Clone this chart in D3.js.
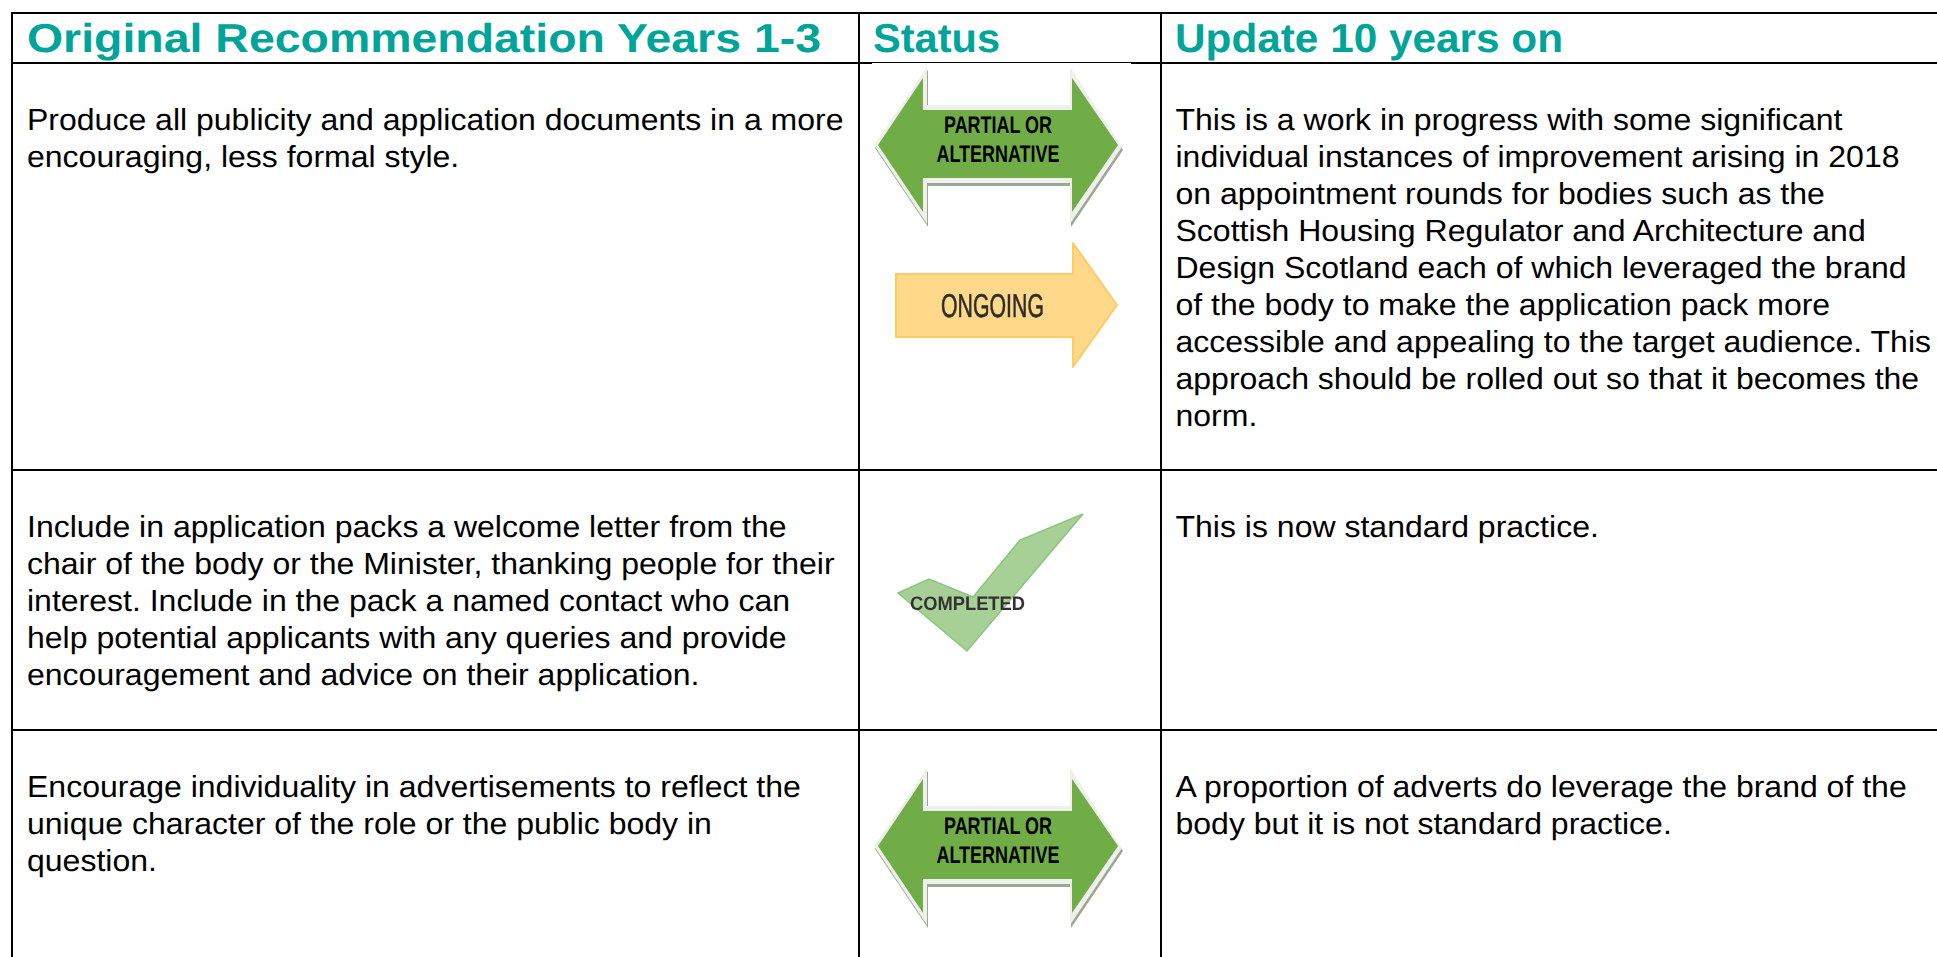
<!DOCTYPE html>
<html>
<head>
<meta charset="utf-8">
<script src="https://cdnjs.cloudflare.com/ajax/libs/d3/7.8.5/d3.min.js"></script>
<style>
    html, body { margin: 0; padding: 0; background: #fff; overflow: hidden; }
    svg { display: block; font-family: "Liberation Sans", Arial, sans-serif; text-rendering: geometricPrecision; }
</style>
</head>
<body>
<svg id="svgTag" width="1937" height="957"></svg>
<script>
    var headers = ["Original Recommendation Years 1-3", "Status", "Update 10 years on"];

    var recommendations = [
        ["Produce all publicity and application documents in a more", "encouraging, less formal style."],
        ["Include in application packs a welcome letter from the", "chair of the body or the Minister, thanking people for their",
            "interest. Include in the pack a named contact who can", "help potential applicants with any queries and provide",
            "encouragement and advice on their application."],
        ["Encourage individuality in advertisements to reflect the", "unique character of the role or the public body in", "question."]
    ];

    var updates = [
        ["This is a work in progress with some significant", "individual instances of improvement arising in 2018",
            "on appointment rounds for bodies such as the", "Scottish Housing Regulator and Architecture and",
            "Design Scotland each of which leveraged the brand", "of the body to make the application pack more",
            "accessible and appealing to the target audience. This", "approach should be rolled out so that it becomes the", "norm."],
        ["This is now standard practice."],
        ["A proportion of adverts do leverage the brand of the", "body but it is not standard practice."]
    ];

    var statuses = [["partial", "ongoing"], ["completed"], ["partial"]];

    var columnEdges = [12, 859, 1161, 1937];
    var rowEdges = [13, 63, 470, 730, 957];
    var headerWidths = [794, 127, 388];
    var headerInset = [15, 14, 14];

    var teal = "#00A499";
    var lineHeight = 37;
    var bodyStretch = 1.053;
    var svg = d3.select("#svgTag");

    var defs = svg.append("defs");
    defs.append("filter").attr("id", "soft").append("feGaussianBlur").attr("stdDeviation", 0.6);

    var outline = d3.line().curve(d3.curveLinearClosed);

    // outlines in local pixels, from the top left of each icon
    var partialOuter = [[0, 78], [53, 0], [53, 38], [196, 38], [196, 0], [248, 80], [196, 157], [196, 116], [53, 116], [53, 157]];
    var partialInner = [[4, 78], [49, 11], [49, 43], [198, 43], [198, 11], [244, 78], [198, 145], [198, 111], [49, 111], [49, 145]];
    var ongoingShape = [[0, 31], [177, 31], [177, 0], [221, 62], [177, 124], [177, 94], [0, 94]];
    var completedShape = [[0, 79], [31, 65], [75, 83], [122, 26], [185, 0], [69, 137]];

    function drawPartial(g) {
        g.append("path").attr("d", outline(partialOuter)).attr("transform", "translate(1,3)")
            .attr("fill", "#9DA894");
        g.append("path").attr("d", outline(partialOuter))
            .attr("fill", "#EEF0EC");
        g.append("path").attr("d", outline(partialInner))
            .attr("fill", "#70AD47");
        g.selectAll("text").data(["PARTIAL OR", "ALTERNATIVE"]).enter().append("text")
            .attr("x", 124)
            .attr("y", function(d, i) { return 66 + i * 29; })
            .attr("text-anchor", "middle")
            .attr("font-size", 24)
            .attr("font-weight", "bold")
            .attr("textLength", function(d, i) { return i ? 123 : 108; })
            .attr("lengthAdjust", "spacingAndGlyphs")
            .attr("fill", "#000")
            .text(function(d) { return d; });
    }

    function drawOngoing(g) {
        g.append("path").attr("d", outline(ongoingShape))
            .attr("fill", "#FFD88A").attr("stroke", "#FFCB62").attr("stroke-width", 2)
            .attr("stroke-linejoin", "round")
            .attr("filter", "url(#soft)");
        g.append("text")
            .attr("x", 96.5).attr("y", 74)
            .attr("text-anchor", "middle")
            .attr("font-size", 33)
            .attr("textLength", 103)
            .attr("lengthAdjust", "spacingAndGlyphs")
            .attr("fill", "#2E2E28")
            .attr("stroke", "#2E2E28").attr("stroke-width", 0.6)
            .attr("filter", "url(#soft)")
            .text("ONGOING");
    }

    function drawCompleted(g) {
        g.append("path").attr("d", outline(completedShape))
            .attr("fill", "#A6D096").attr("stroke", "#8CC57E").attr("stroke-width", 1.5)
            .attr("filter", "url(#soft)");
        g.append("text")
            .attr("x", 12).attr("y", 96)
            .attr("font-size", 19.5)
            .attr("font-weight", "bold")
            .attr("textLength", 115)
            .attr("lengthAdjust", "spacingAndGlyphs")
            .attr("fill", "#333")
            .attr("filter", "url(#soft)")
            .text("COMPLETED");
    }

    var icons = {
        partial: { draw: drawPartial, dx: 15, dy: [4, 0, 38] },
        ongoing: { draw: drawOngoing, dx: 37, dy: [180, 0, 0] },
        completed: { draw: drawCompleted, dx: 39, dy: [0, 44, 0] }
    };

    // table rules
    var rules = svg.append("g");
    columnEdges.slice(0, 3).forEach(function(x) {
        rules.append("line").attr("x1", x).attr("x2", x)
            .attr("y1", rowEdges[0]).attr("y2", rowEdges[4])
            .attr("stroke", "#000").attr("stroke-width", 2);
    });
    rowEdges.slice(0, 4).forEach(function(y) {
        rules.append("line").attr("x1", columnEdges[0] - 1).attr("x2", columnEdges[3])
            .attr("y1", y).attr("y2", y)
            .attr("stroke", "#000").attr("stroke-width", 2);
    });

    // the status picture clips the lower part of the header rule
    rules.append("rect")
        .attr("x", 872).attr("y", rowEdges[1])
        .attr("width", 259).attr("height", 2)
        .attr("fill", "#fff");

    // header row
    svg.append("g").selectAll("text").data(headers).enter().append("text")
        .attr("x", function(d, i) { return columnEdges[i] + headerInset[i]; })
        .attr("y", 52)
        .attr("font-size", 40.5)
        .attr("font-weight", "bold")
        .attr("textLength", function(d, i) { return headerWidths[i]; })
        .attr("lengthAdjust", "spacingAndGlyphs")
        .attr("fill", teal)
        .text(function(d) { return d; });

    function drawCell(lines, x, top) {
        svg.append("g").selectAll("text").data(lines).enter().append("text")
            .attr("transform", function(d, i) {
                return "translate(" + x + "," + (top + i * lineHeight) + ") scale(" + bodyStretch + ",1)";
            })
            .attr("font-size", 30.4)
            .attr("fill", "#000")
            .text(function(d) { return d; });
    }

    recommendations.forEach(function(lines, i) {
        drawCell(lines, columnEdges[0] + 15, rowEdges[i + 1] + 67);
        drawCell(updates[i], columnEdges[2] + 14.5, rowEdges[i + 1] + 67);
        statuses[i].forEach(function(status) {
            var icon = icons[status];
            var g = svg.append("g")
                .attr("transform", "translate(" + (columnEdges[1] + icon.dx) + "," + (rowEdges[i + 1] + icon.dy[i]) + ")");
            icon.draw(g);
        });
    });
</script>
</body>
</html>
